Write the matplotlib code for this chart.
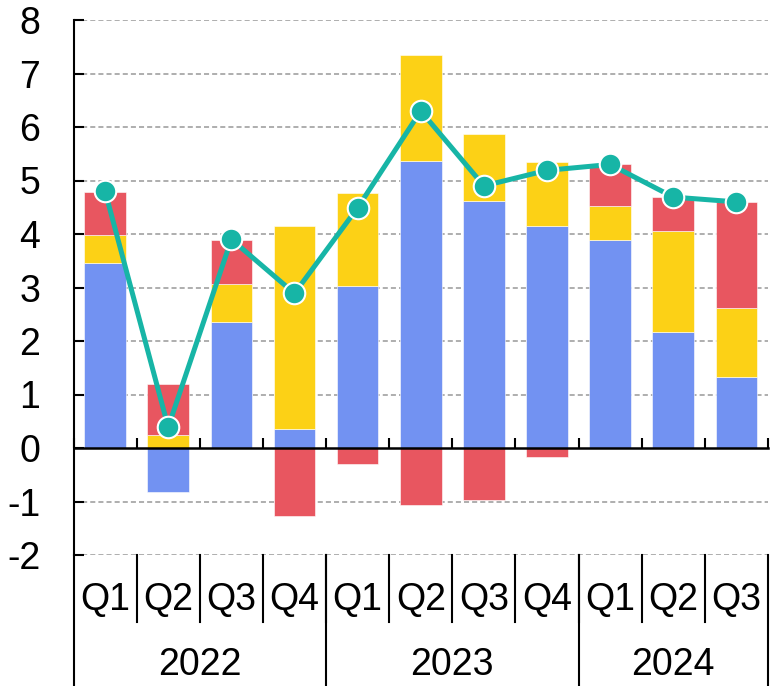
import matplotlib
matplotlib.use('Agg')
import matplotlib.pyplot as plt
import numpy as np

# ── DATA ──────────────────────────────────────────────
quarters = ['Q1', 'Q2', 'Q3', 'Q4', 'Q1', 'Q2', 'Q3', 'Q4', 'Q1', 'Q2', 'Q3']
years    = ['2022', '2023', '2024']
year_len = [4, 4, 3]

blue   = [3.45, -0.82, 2.36, 0.36, 3.02, 5.36, 4.62, 4.15, 3.89, 2.17, 1.33]
yellow = [0.53,  0.24, 0.71, 3.79, 1.75, 1.99, 1.24, 1.20, 0.63, 1.89, 1.29]
red    = [0.81,  0.96, 0.82, -1.27, -0.29, -1.06, -0.97, -0.17, 0.78, 0.63, 1.98]
total  = [4.8, 0.39, 3.9, 2.89, 4.49, 6.3, 4.9, 5.19, 5.3, 4.69, 4.6]

# ── COLORS ────────────────────────────────────────────
colors = {
    'blue'  : '#7292F2',
    'yellow': '#FCD116',
    'red'   : '#E85660',
    'teal'  : '#17B5A6',
}

plt.rcParams['font.family'] = ['Liberation Sans', 'DejaVu Sans']

fig = plt.figure(figsize=(7.71, 6.86), dpi=100)
ax = fig.add_axes([73.5 / 771, 131 / 686, 694.5 / 771, 535 / 686])

x = np.arange(len(quarters))
width = 0.66

# stack positives upward, negatives downward
pos_base = np.zeros(len(x))
neg_base = np.zeros(len(x))
for vals, key in [(blue, 'blue'), (yellow, 'yellow'), (red, 'red')]:
    vals = np.array(vals)
    bottom = np.where(vals >= 0, pos_base, neg_base)
    ax.bar(x, vals, width, bottom=bottom, color=colors[key],
           edgecolor='white', linewidth=0.4, zorder=2)
    pos_base += np.where(vals >= 0, vals, 0)
    neg_base += np.where(vals < 0, vals, 0)

# total line
ax.plot(x, total, color=colors['teal'], linewidth=3.6, marker='o',
        markersize=15.5, markeredgecolor='white', markeredgewidth=1.5, zorder=4)

# axes
ax.set_xlim(-0.5, len(x) - 0.5)
ax.set_ylim(-2, 8)
ax.set_yticks(range(-2, 9))
ax.set_yticklabels([str(v) for v in range(-2, 9)])
for v in range(-2, 9):
    if v != 0:
        ax.axhline(v, color='#A8A8A8', linestyle=(0, (2.8, 1.7)), linewidth=1.3, zorder=1)

ax.spines['top'].set_visible(False)
ax.spines['right'].set_visible(False)
ax.spines['left'].set_linewidth(1.5)
ax.spines['bottom'].set_position(('data', 0))
ax.spines['bottom'].set_linewidth(1.8)
ax.spines['bottom'].set_zorder(3)

ax.set_xticks(np.arange(-0.5, len(x), 1.0))
ax.set_xticklabels([])
ax.tick_params(axis='x', direction='in', length=7, width=1.5)
ax.tick_params(axis='y', direction='in', length=7, width=1.5, pad=24, labelsize=27)

# category labels below the plot
trans = ax.get_xaxis_transform()
for i, q in enumerate(quarters):
    ax.text(i, -0.084, q, transform=trans, ha='center', va='center', fontsize=27)
for b in np.arange(0.5, len(x) - 1, 1.0):
    ax.plot([b, b], [0, -0.125], transform=trans, color='black', linewidth=1.5, clip_on=False)

start = 0
bounds = [-0.5]
for yr, n in zip(years, year_len):
    ax.text(start + (n - 1) / 2, -0.206, yr, transform=trans, ha='center', va='center', fontsize=27)
    start += n
    bounds.append(start - 0.5)
for b in bounds:
    ax.plot([b, b], [0, -0.3], transform=trans, color='black', linewidth=1.5, clip_on=False)

fig.savefig('out.png', dpi=100)
